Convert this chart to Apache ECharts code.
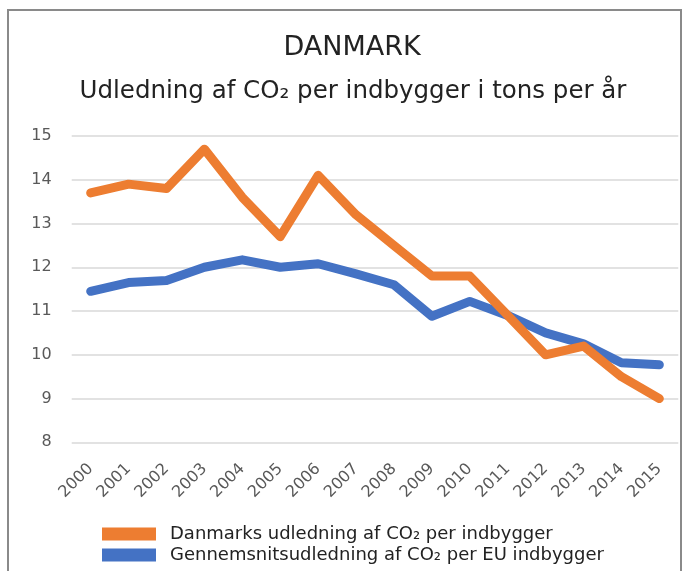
<!DOCTYPE html>
<html>
<head>
<meta charset="utf-8">
<script src="https://cdn.jsdelivr.net/npm/echarts@6/dist/echarts.min.js"></script>
<style>
html,body{margin:0;padding:0;background:#fff;}
#frame{position:absolute;left:7px;top:9px;width:675px;height:600px;border:2px solid #8a8a8a;box-sizing:border-box;}
#chart{position:absolute;left:0;top:0;width:690px;height:571px;}
</style>
</head>
<body>
<div id="frame"></div>
<div id="chart"></div>
<script>
const years = ['2000','2001','2002','2003','2004','2005','2006','2007','2008','2009','2010','2011','2012','2013','2014','2015'];
const danmark = [13.7, 13.9, 13.8, 14.7, 13.6, 12.7, 14.1, 13.2, 12.5, 11.8, 11.8, 10.9, 10.0, 10.2, 9.5, 9.0];
const euAverage = [11.45, 11.65, 11.7, 12.0, 12.17, 12.0, 12.08, 11.85, 11.6, 10.88, 11.22, 10.9, 10.5, 10.25, 9.82, 9.77];
const yTicks = [8, 9, 10, 11, 12, 13, 14, 15];
const seriesNames = ['Danmarks udledning af CO₂ per indbygger', 'Gennemsnitsudledning af CO₂ per EU indbygger'];
const titleText = 'DANMARK';
const subtitleText = 'Udledning af CO₂ per indbygger i tons per år';

const font = '"DejaVu Sans", Verdana, sans-serif';
const legendText = {fontFamily: font, fontSize: 18, color: '#222', padding: [0, 0, 0, 9]};
const chart = echarts.init(document.getElementById('chart'), null, {renderer: 'canvas'});
chart.setOption({
  backgroundColor: 'transparent',
  animation: false,
  title: [
    {text: titleText, left: 347, textAlign: 'center', top: 29, textStyle: {fontFamily: font, fontSize: 27, fontWeight: 'normal', color: '#222'}},
    {text: subtitleText, left: 348, textAlign: 'center', top: 74, textStyle: {fontFamily: font, fontSize: 24.5, fontWeight: 'normal', color: '#222'}}
  ],
  grid: {left: 71.7, right: 11.7, top: 136, bottom: 128.7, containLabel: false},
  legend: [
    {left: 97, top: 520, icon: 'rect', itemWidth: 54, itemHeight: 13, itemGap: 0, textStyle: legendText, data: [seriesNames[0]]},
    {left: 97, top: 541, icon: 'rect', itemWidth: 54, itemHeight: 13, itemGap: 0, textStyle: legendText, data: [seriesNames[1]]}
  ],
  xAxis: {
    type: 'category', data: years, boundaryGap: true,
    axisLine: {show: false}, axisTick: {show: false},
    axisLabel: {rotate: 45, margin: 24, fontFamily: font, fontSize: 16, color: '#595959', interval: 0}
  },
  yAxis: {
    type: 'value', min: yTicks[0], max: yTicks[yTicks.length-1], interval: 1,
    axisLine: {show: false}, axisTick: {show: false},
    axisLabel: {margin: 20, fontFamily: font, fontSize: 16, color: '#595959'},
    splitLine: {lineStyle: {color: '#d9d9d9', width: 1.5}}
  },
  series: [
    {name: seriesNames[0], type: 'line', data: danmark, symbol: 'none', color: '#ED7D31',
     lineStyle: {width: 9, color: '#ED7D31', cap: 'round', join: 'round'}},
    {name: seriesNames[1], type: 'line', data: euAverage, symbol: 'none', color: '#4472C4',
     lineStyle: {width: 9, color: '#4472C4', cap: 'round', join: 'round'}, z: 1}
  ]
});
</script>
</body>
</html>
